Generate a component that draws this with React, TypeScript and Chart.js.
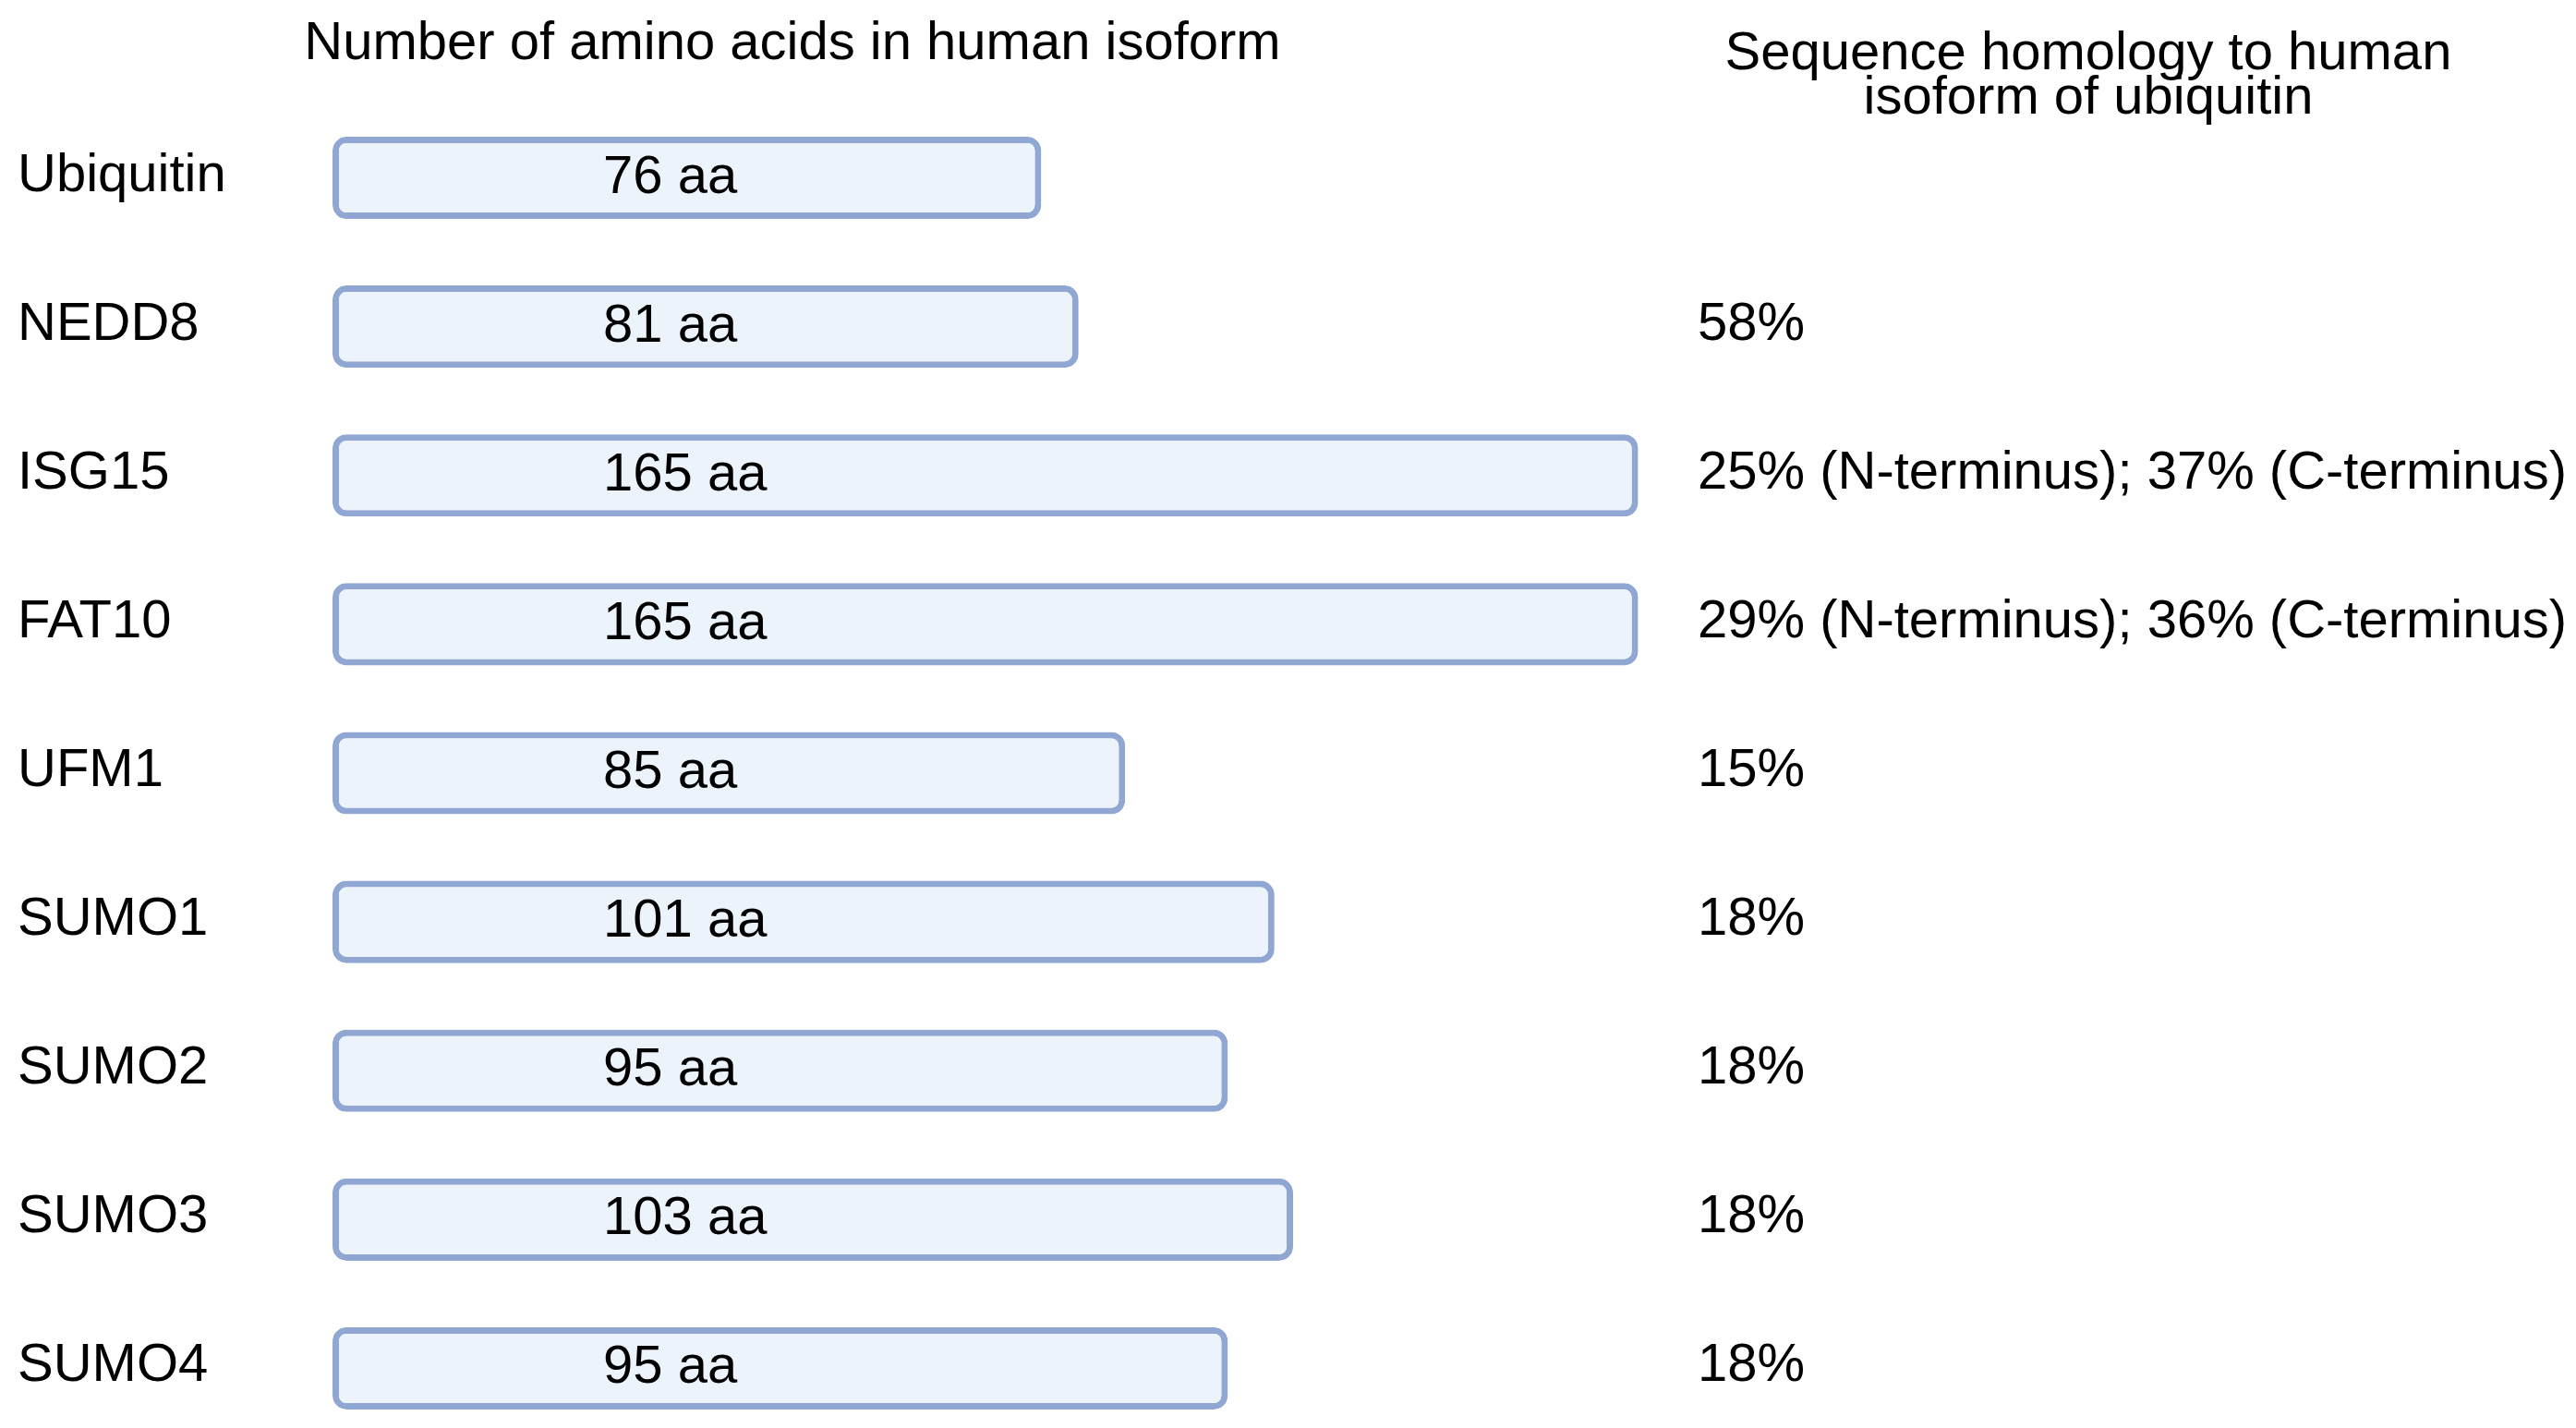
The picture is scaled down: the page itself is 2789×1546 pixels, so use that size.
import React, { useEffect, useRef } from "react";
import { Chart, registerables } from "chart.js";

Chart.register(...registerables);

const proteins = ["Ubiquitin", "NEDD8", "ISG15", "FAT10", "UFM1", "SUMO1", "SUMO2", "SUMO3", "SUMO4"];
const aminoAcidCounts = [76, 81, 165, 165, 85, 101, 95, 103, 95];
// Bar lengths as drawn in the figure, read in aa units (ISG15 and FAT10 bars are drawn truncated)
const drawnBarLengths = [76, 80, 140, 140, 85, 101, 96, 103, 96];
const homology = [
  "",
  "58%",
  "25% (N-terminus); 37% (C-terminus)",
  "29% (N-terminus); 36% (C-terminus)",
  "15%",
  "18%",
  "18%",
  "18%",
  "18%",
];
const leftTitle = "Number of amino acids in human isoform";
const rightTitleLines = ["Sequence homology to human", "isoform of ubiquitin"];

const FONT = '"Liberation Sans", Arial, Helvetica, sans-serif';
const FONT_SIZE = 58;

const textPlugin = {
  id: "figureText",
  afterDatasetsDraw(chart: any) {
    const ctx = chart.ctx;
    ctx.save();
    ctx.fillStyle = "#000";
    ctx.font = `${FONT_SIZE}px ${FONT}`;
    ctx.textAlign = "left";
    ctx.textBaseline = "alphabetic";
    const meta = chart.getDatasetMeta(0);
    meta.data.forEach((bar: any, i: number) => {
      const { base, y } = bar.getProps(["base", "y"], true);
      ctx.fillText(`${aminoAcidCounts[i]} aa`, base + 293, y + 16);
    });
    ctx.textAlign = "center";
    ctx.fillText(leftTitle, 858, 64);
    rightTitleLines.forEach((line, i) => ctx.fillText(line, 2261, 75 + i * 48));
    ctx.restore();
  },
};

export default function App() {
  const canvasRef = useRef<HTMLCanvasElement | null>(null);

  useEffect(() => {
    const canvas = canvasRef.current;
    if (!canvas) return;
    const tickFont = { family: FONT, size: FONT_SIZE };
    const chart = new Chart(canvas, {
      type: "bar",
      data: {
        labels: proteins,
        datasets: [
          {
            data: drawnBarLengths,
            backgroundColor: "#edf3fb",
            borderColor: "#91a7d3",
            borderWidth: 7,
            borderRadius: 15,
            borderSkipped: false,
            barPercentage: 0.553,
            categoryPercentage: 1,
          },
        ],
      },
      options: {
        indexAxis: "y",
        responsive: false,
        animation: false,
        devicePixelRatio: 1,
        layout: { padding: { left: 19, right: 0, top: 112, bottom: 60 } },
        plugins: {
          legend: { display: false },
          tooltip: { enabled: false },
          title: { display: false },
        },
        scales: {
          x: { display: false, min: 0, max: 144 },
          y: {
            position: "left",
            grid: { display: false, drawTicks: false },
            border: { display: false },
            ticks: {
              crossAlign: "far",
              padding: 0,
              color: "#000",
              font: tickFont,
              labelOffset: -2,
              autoSkip: false,
            },
            afterFit: (s: any) => {
              s.width = 341;
            },
          },
          y2: {
            type: "category",
            labels: homology,
            position: "right",
            offset: true,
            grid: { display: false, drawTicks: false },
            border: { display: false },
            ticks: {
              crossAlign: "near",
              padding: 24,
              color: "#000",
              font: tickFont,
              labelOffset: -2,
              autoSkip: false,
            },
            afterFit: (s: any) => {
              s.width = 975;
            },
          },
        },
      } as any,
      plugins: [textPlugin],
    });
    return () => chart.destroy();
  }, []);

  return (
    <div
      style={{
        position: "fixed",
        left: 0,
        top: 0,
        width: 2789,
        height: 1546,
        overflow: "hidden",
        background: "#fff",
      }}
    >
      <canvas ref={canvasRef} width={2789} height={1622} style={{ display: "block" }} />
    </div>
  );
}
